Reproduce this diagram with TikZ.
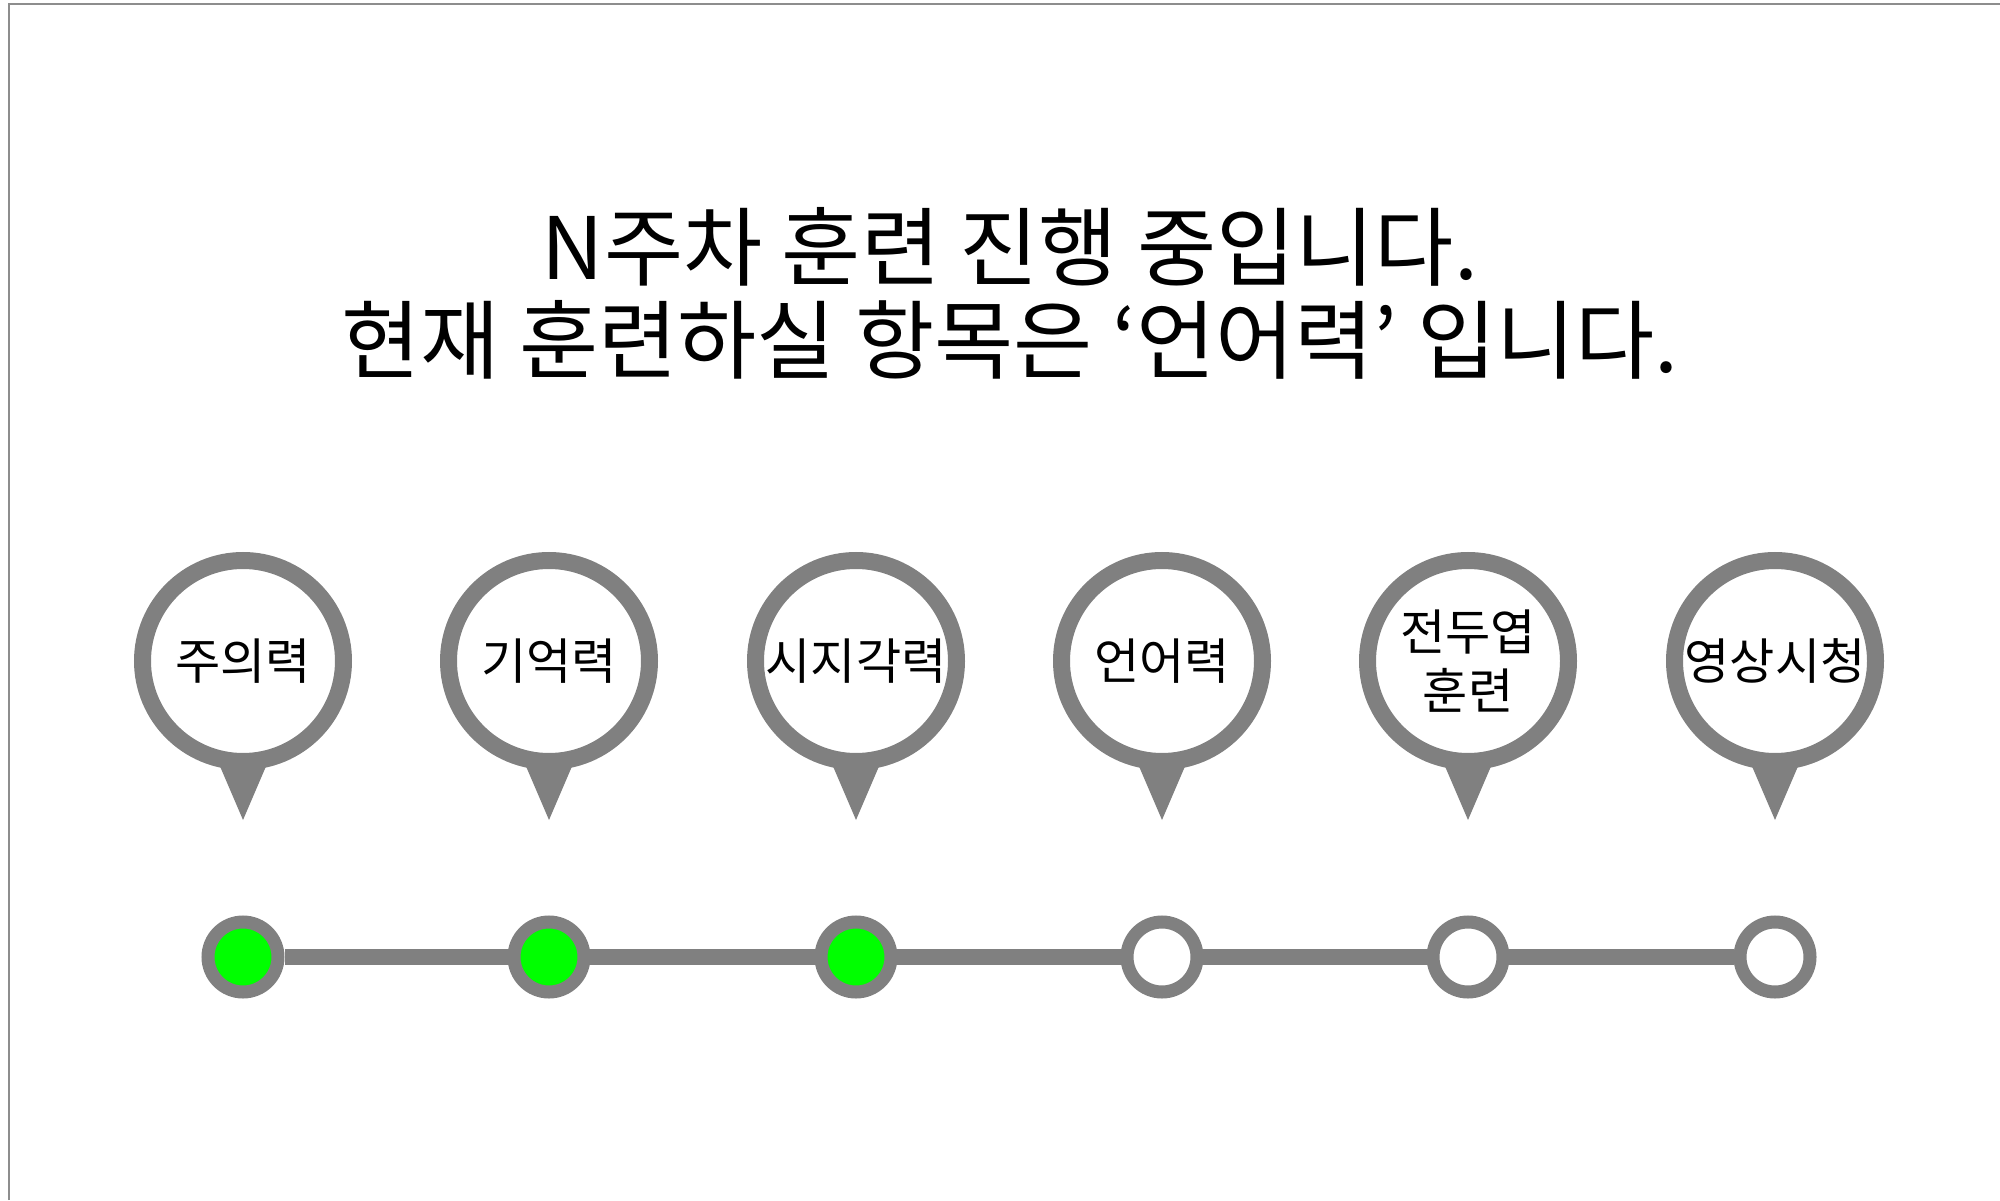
\documentclass[tikz,border=0pt]{standalone}
\usepackage{fontspec}
\setmainfont{Noto Sans CJK KR}
\usepackage{pgf, tikz}
\pgfdeclarelayer{edgelayer}
\pgfdeclarelayer{nodelayer}
\pgfsetlayers{edgelayer,nodelayer,main}
\definecolor{pingray}{HTML}{808080}
\definecolor{donegreen}{HTML}{00FF00}
\tikzstyle{frame}=[draw=pingray!90, line width=0.025cm]
\tikzstyle{bubble}=[circle, fill=white, draw=pingray, line width=0.17cm, minimum size=2.01cm, inner sep=0pt, align=center, font=\fontsize{14}{17}\selectfont]
\tikzstyle{bubbletail}=[fill=pingray]
\tikzstyle{todo}=[circle, fill=white, draw=pingray, line width=0.13cm, minimum size=0.70cm, inner sep=0pt]
\tikzstyle{done}=[todo, fill=donegreen]
\tikzstyle{track}=[draw=pingray, line width=0.16cm]
\tikzstyle{title}=[align=center, font=\fontsize{24.5}{26.5}\selectfont]

\begin{document}
\begin{tikzpicture}
	\useasboundingbox (0,0) rectangle (20,12);
	\draw [style=frame] (0.09,0) -- (0.09,11.96) -- (20,11.96);
	\node [style=title] (head) at (10.1, 9.07) {N주차 훈련 진행 중입니다.\\현재 훈련하실 항목은 ‘언어력’ 입니다.};
	\begin{pgfonlayer}{nodelayer}
		\node [style=bubble] (p1) at (2.43, 5.39) {주의력};
		\node [style=bubble] (p2) at (5.49, 5.39) {기억력};
		\node [style=bubble] (p3) at (8.56, 5.39) {시지각력};
		\node [style=bubble] (p4) at (11.62, 5.39) {언어력};
		\node [style=bubble] (p5) at (14.68, 5.39) {전두엽\\훈련};
		\node [style=bubble] (p6) at (17.75, 5.39) {영상시청};
		\node [style=done] (d1) at (2.43, 2.43) {};
		\node [style=done] (d2) at (5.49, 2.43) {};
		\node [style=done] (d3) at (8.56, 2.43) {};
		\node [style=todo] (d4) at (11.62, 2.43) {};
		\node [style=todo] (d5) at (14.68, 2.43) {};
		\node [style=todo] (d6) at (17.75, 2.43) {};
	\end{pgfonlayer}
	\begin{pgfonlayer}{edgelayer}
		\fill [style=bubbletail] ([xshift=-3mm, yshift=-8.9mm]p1.center) -- ([xshift=3mm, yshift=-8.9mm]p1.center) -- ([yshift=-15.9mm]p1.center) -- cycle;
		\fill [style=bubbletail] ([xshift=-3mm, yshift=-8.9mm]p2.center) -- ([xshift=3mm, yshift=-8.9mm]p2.center) -- ([yshift=-15.9mm]p2.center) -- cycle;
		\fill [style=bubbletail] ([xshift=-3mm, yshift=-8.9mm]p3.center) -- ([xshift=3mm, yshift=-8.9mm]p3.center) -- ([yshift=-15.9mm]p3.center) -- cycle;
		\fill [style=bubbletail] ([xshift=-3mm, yshift=-8.9mm]p4.center) -- ([xshift=3mm, yshift=-8.9mm]p4.center) -- ([yshift=-15.9mm]p4.center) -- cycle;
		\fill [style=bubbletail] ([xshift=-3mm, yshift=-8.9mm]p5.center) -- ([xshift=3mm, yshift=-8.9mm]p5.center) -- ([yshift=-15.9mm]p5.center) -- cycle;
		\fill [style=bubbletail] ([xshift=-3mm, yshift=-8.9mm]p6.center) -- ([xshift=3mm, yshift=-8.9mm]p6.center) -- ([yshift=-15.9mm]p6.center) -- cycle;
		\draw [style=track] (d1) -- (d6);
	\end{pgfonlayer}
\end{tikzpicture}
\end{document}
